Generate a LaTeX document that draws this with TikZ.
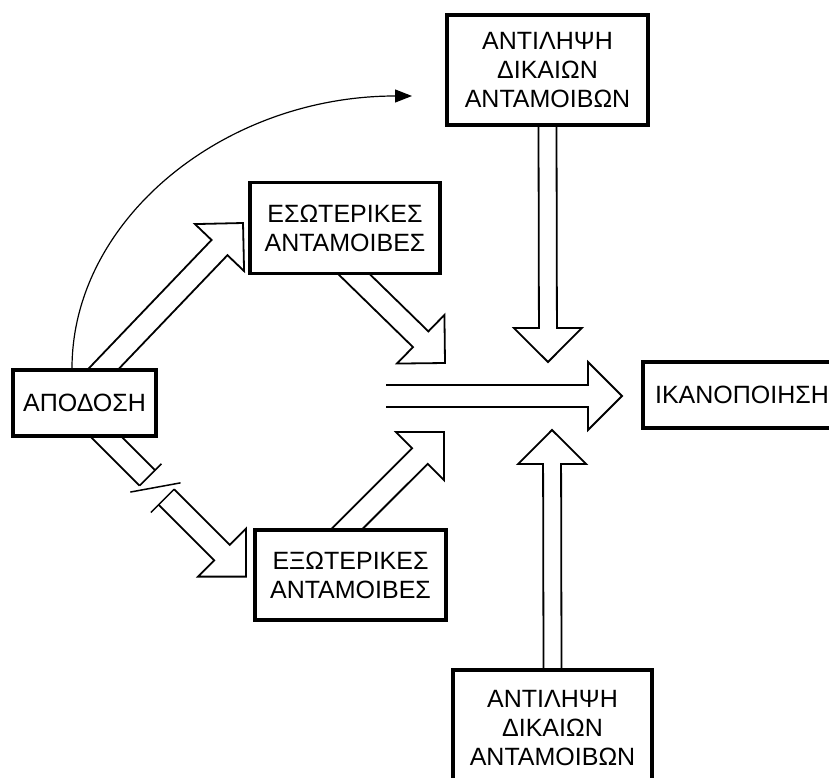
\documentclass[tikz,border=0pt]{standalone}
\usepackage{fontspec}
\setmainfont{Liberation Sans}
\usetikzlibrary{calc,arrows.meta,backgrounds}

\tikzset{
  box/.style={draw, line width=3.2pt, fill=white, align=center, inner sep=2pt,
    font=\fontsize{25}{29}\selectfont},
  hollow/.style={line width=1.8pt, line join=miter},
  thinarrow/.style={line width=1.2pt, -{Triangle[length=17pt,width=13pt]}},
}

% hollow block arrow: [tail overlap]{start}{tip}{shaft half width}
\newcommand{\blockarrow}[4][20pt]{%
  \draw[hollow] let \p1=(#2), \p2=(#3),
      \n1={atan2(\y2-\y1,\x2-\x1)}, \n2={veclen(\x2-\x1,\y2-\y1)} in
    [shift={(\p2)}, rotate=\n1]
    (-\n2-#1,#4) -- (-34pt,#4) -- (-34pt,34pt) -- (0pt,0pt)
    -- (-34pt,-34pt) -- (-34pt,-#4) -- (-\n2-#1,-#4);}

\begin{document}
\begin{tikzpicture}[x=1pt,y=-1pt]
\useasboundingbox (0,0) rectangle (829,778);

\node[box, minimum width=143pt, minimum height=66pt] (apod) at (84.5,403) {ΑΠΟΔΟΣΗ};
\node[box, minimum width=190pt, minimum height=91pt] (esot) at (345,228) {ΕΣΩΤΕΡΙΚΕΣ\\ΑΝΤΑΜΟΙΒΕΣ};
\node[box, minimum width=191pt, minimum height=90pt] (exot) at (350.5,575) {ΕΞΩΤΕΡΙΚΕΣ\\ΑΝΤΑΜΟΙΒΕΣ};
\node[box, minimum width=201pt, minimum height=110pt] (antTop) at (547.5,70) {ΑΝΤΙΛΗΨΗ\\ΔΙΚΑΙΩΝ\\ΑΝΤΑΜΟΙΒΩΝ};
\node[box, minimum width=199pt, minimum height=116pt] (antBot) at (552.5,728) {ΑΝΤΙΛΗΨΗ\\ΔΙΚΑΙΩΝ\\ΑΝΤΑΜΟΙΒΩΝ};
\node[box, minimum width=198pt, minimum height=66pt] (ikan) at (742,395) {ΙΚΑΝΟΠΟΙΗΣΗ};

\coordinate (tipEsot) at (243,223);
\coordinate (hubUp) at (445,363);
\coordinate (hubDown) at (444,432);
\coordinate (hubTop) at (548,362);
\coordinate (hubBot) at (552,430);
\coordinate (mainTail) at (386,396);
\coordinate (mainTip) at (622,396);
\coordinate (curveEnd) at (412,96);

\begin{scope}[on background layer]
\blockarrow{[xshift=19.5pt]apod.north}{tipEsot}{11pt}
\blockarrow{[xshift=10pt]esot.south}{hubUp}{11pt}
\blockarrow{[xshift=-3pt]exot.north}{hubDown}{11pt}
\blockarrow{antTop.south}{hubTop}{9pt}
\blockarrow{[yshift=3pt]antBot.north}{hubBot}{9pt}
\blockarrow[0pt]{mainTail}{mainTip}{11pt}

% broken arrow to the lower box
\begin{scope}[shift={([xshift=22.5pt]apod.south)}, rotate=-45]
\draw[hollow] (-20pt,11pt) -- (57pt,11pt) (-20pt,-11pt) -- (57pt,-11pt);
\draw[hollow] (84pt,11pt) -- (162.6pt,11pt) -- (162.6pt,34pt) -- (196.6pt,0pt)
  -- (162.6pt,-34pt) -- (162.6pt,-11pt) -- (84pt,-11pt);
\draw[line width=1.5pt] (57pt,-11pt) -- (57pt,20pt);
\draw[line width=1.5pt] (55pt,-22pt) -- (84pt,20pt);
\draw[line width=1.5pt] (84pt,-22pt) -- (84pt,11pt);
\end{scope}
\end{scope}

\draw[thinarrow] ([xshift=-12.5pt]apod.north) .. controls +(0,-149) and +(-188,0) .. (curveEnd);
\end{tikzpicture}
\end{document}
